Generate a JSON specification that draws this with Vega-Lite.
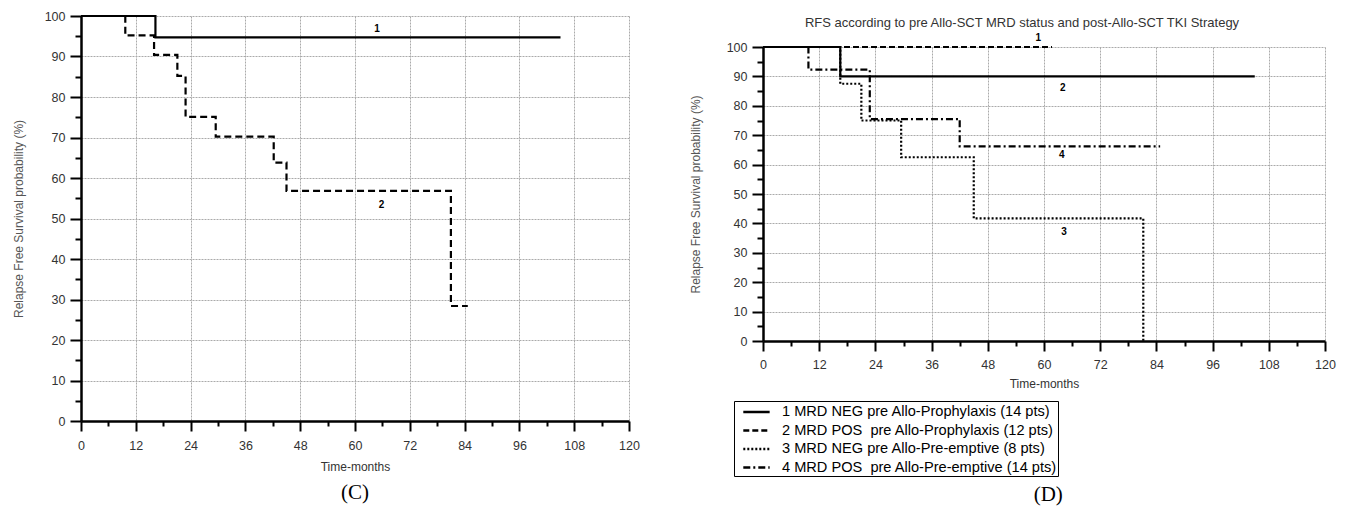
{
  "$schema": "https://vega.github.io/schema/vega-lite/v6.json",
  "background": "white",
  "padding": {"left": 12, "top": 10, "right": 5, "bottom": 2},
  "spacing": 49,
  "config": {
    "view": {"stroke": null},
    "axis": {
      "domainColor": "black", "domainWidth": 2.5,
      "tickColor": "black", "tickWidth": 2,
      "gridColor": "#aaaaaa", "gridWidth": 1, "gridDash": [2, 1],
      "labelFont": "Liberation Sans", "labelFontSize": 12.5, "labelColor": "#333",
      "labelFlush": false, "labelOverlap": false,
      "titleFont": "Liberation Sans", "titleFontSize": 12, "titleFontWeight": "normal", "titleColor": "#555"
    }
  },
  "resolve": {"scale": {"strokeDash": "independent"}, "legend": {"strokeDash": "independent"}},
  "hconcat": [
    {
      "width": 548,
      "height": 405,
      "title": {"text": "(C)", "orient": "bottom", "anchor": "middle", "font": "Liberation Serif", "fontSize": 21, "fontWeight": "normal", "color": "black", "offset": 9},
      "encoding": {
        "x": {"field": "t", "type": "quantitative", "scale": {"domain": [0, 120], "nice": false},
          "axis": {
            "title": "Time-months", "titleColor": "#333", "titlePadding": 10, "labelPadding": 8, "labelOverlap": false,
            "values": [0, 6, 12, 18, 24, 30, 36, 42, 48, 54, 60, 66, 72, 78, 84, 90, 96, 102, 108, 114, 120],
            "labelExpr": "datum.value % 12 === 0 ? datum.label : ''",
            "tickSize": {"condition": {"test": "datum.value % 12 === 0", "value": 10}, "value": 5},
            "gridOpacity": {"condition": {"test": "datum.value % 12 === 0", "value": 1}, "value": 0}
          }},
        "y": {"field": "p", "type": "quantitative", "scale": {"domain": [0, 100], "nice": false},
          "axis": {
            "title": "Relapse Free Survival probability (%)", "titlePadding": 19, "labelPadding": 5, "labelOverlap": false,
            "values": [0, 5, 10, 15, 20, 25, 30, 35, 40, 45, 50, 55, 60, 65, 70, 75, 80, 85, 90, 95, 100],
            "labelExpr": "datum.value % 10 === 0 ? datum.label : ''",
            "tickSize": {"condition": {"test": "datum.value % 10 === 0", "value": 11}, "value": 6},
            "gridOpacity": {"condition": {"test": "datum.value % 10 === 0", "value": 1}, "value": 0}
          }}
      },
      "layer": [
        {
          "data": {"values": [
            {"g": "1", "t": 0, "p": 100},
            {"g": "1", "t": 16.3, "p": 94.7},
            {"g": "1", "t": 105, "p": 94.7},
            {"g": "2", "t": 0, "p": 100},
            {"g": "2", "t": 9.7, "p": 95.2},
            {"g": "2", "t": 16, "p": 90.4},
            {"g": "2", "t": 21.1, "p": 85.2},
            {"g": "2", "t": 22.9, "p": 75.1},
            {"g": "2", "t": 29.5, "p": 70.2},
            {"g": "2", "t": 42.2, "p": 63.8},
            {"g": "2", "t": 45, "p": 56.8},
            {"g": "2", "t": 81, "p": 28.4},
            {"g": "2", "t": 84.7, "p": 28.4}
          ]},
          "mark": {"type": "line", "interpolate": "step-after", "color": "black", "strokeWidth": 2.2},
          "encoding": {
            "strokeDash": {"field": "g", "type": "nominal", "scale": {"domain": ["1", "2"], "range": [[1, 0], [7, 4]]}, "legend": null}
          }
        },
        {
          "data": {"values": [
            {"t": 64.8, "p": 96.8, "lab": "1"},
            {"t": 65.8, "p": 53.4, "lab": "2"}
          ]},
          "mark": {"type": "text", "font": "Liberation Sans", "fontWeight": "bold", "fontSize": 10, "color": "black"},
          "encoding": {
            "text": {"field": "lab"}
          }
        }
      ]
    },
    {
      "title": {"text": "(D)", "orient": "bottom", "anchor": "middle", "font": "Liberation Serif", "fontSize": 21, "fontWeight": "normal", "color": "black", "offset": 7, "dx": 36},
      "spacing": 2,
      "vconcat": [
        {
          "width": 562,
          "height": 1,
          "title": {"text": "RFS according to pre Allo-SCT MRD status and post-Allo-SCT TKI Strategy", "orient": "bottom", "font": "Liberation Sans", "fontSize": 13, "fontWeight": "normal", "color": "#333", "offset": -2, "dx": -22},
          "data": {"values": [{}]},
          "mark": {"type": "point", "opacity": 0}
        },
        {
          "width": 562,
          "height": 294,
          "encoding": {
            "x": {"field": "t", "type": "quantitative", "scale": {"domain": [0, 120], "nice": false},
              "axis": {
                "title": "Time-months", "titleColor": "#333", "titlePadding": 8, "labelPadding": 7, "labelOverlap": false,
                "values": [0, 6, 12, 18, 24, 30, 36, 42, 48, 54, 60, 66, 72, 78, 84, 90, 96, 102, 108, 114, 120],
                "labelExpr": "datum.value % 12 === 0 ? datum.label : ''",
                "tickSize": {"condition": {"test": "datum.value % 12 === 0", "value": 10}, "value": 5},
                "gridOpacity": {"condition": {"test": "datum.value % 12 === 0", "value": 1}, "value": 0}
              }},
            "y": {"field": "p", "type": "quantitative", "scale": {"domain": [0, 100], "nice": false},
              "axis": {
                "title": "Relapse Free Survival probability (%)", "titlePadding": 24, "labelPadding": 5, "labelOverlap": false,
                "values": [0, 5, 10, 15, 20, 25, 30, 35, 40, 45, 50, 55, 60, 65, 70, 75, 80, 85, 90, 95, 100],
                "labelExpr": "datum.value % 10 === 0 ? datum.label : ''",
                "tickSize": {"condition": {"test": "datum.value % 10 === 0", "value": 11}, "value": 6},
                "gridOpacity": {"condition": {"test": "datum.value % 10 === 0", "value": 1}, "value": 0}
              }}
          },
          "layer": [
            {
              "data": {"values": [
                {"s": "1 MRD NEG pre Allo-Prophylaxis (14 pts)", "t": 0, "p": 100},
                {"s": "1 MRD NEG pre Allo-Prophylaxis (14 pts)", "t": 16.5, "p": 90},
                {"s": "1 MRD NEG pre Allo-Prophylaxis (14 pts)", "t": 105, "p": 90},
                {"s": "2 MRD POS\u00a0 pre Allo-Prophylaxis (12 pts)", "t": 0, "p": 100},
                {"s": "2 MRD POS\u00a0 pre Allo-Prophylaxis (12 pts)", "t": 61.7, "p": 100},
                {"s": "3 MRD NEG pre Allo-Pre-emptive (8 pts)", "t": 0, "p": 100},
                {"s": "3 MRD NEG pre Allo-Pre-emptive (8 pts)", "t": 16.5, "p": 87.5},
                {"s": "3 MRD NEG pre Allo-Pre-emptive (8 pts)", "t": 21, "p": 75},
                {"s": "3 MRD NEG pre Allo-Pre-emptive (8 pts)", "t": 29.5, "p": 62.5},
                {"s": "3 MRD NEG pre Allo-Pre-emptive (8 pts)", "t": 45, "p": 41.7},
                {"s": "3 MRD NEG pre Allo-Pre-emptive (8 pts)", "t": 81.2, "p": 0},
                {"s": "4 MRD POS\u00a0 pre Allo-Pre-emptive (14 pts)", "t": 0, "p": 100},
                {"s": "4 MRD POS\u00a0 pre Allo-Pre-emptive (14 pts)", "t": 9.7, "p": 92.3},
                {"s": "4 MRD POS\u00a0 pre Allo-Pre-emptive (14 pts)", "t": 22.8, "p": 75.5},
                {"s": "4 MRD POS\u00a0 pre Allo-Pre-emptive (14 pts)", "t": 42, "p": 66.2},
                {"s": "4 MRD POS\u00a0 pre Allo-Pre-emptive (14 pts)", "t": 84.8, "p": 66.2}
              ]},
              "mark": {"type": "line", "interpolate": "step-after", "color": "black", "strokeWidth": 2.2},
              "encoding": {
                "strokeDash": {"field": "s", "type": "nominal",
                  "scale": {"domain": ["1 MRD NEG pre Allo-Prophylaxis (14 pts)", "2 MRD POS\u00a0 pre Allo-Prophylaxis (12 pts)", "3 MRD NEG pre Allo-Pre-emptive (8 pts)", "4 MRD POS\u00a0 pre Allo-Pre-emptive (14 pts)"],
                            "range": [[1, 0], [6, 3], [2, 2], [7, 3, 2, 3]]},
                  "legend": {
                    "title": null, "orient": "none", "legendX": -29, "legendY": 385,
                    "strokeColor": "black", "fillColor": "white", "padding": 1,
                    "symbolType": "M-0.2,0H2.9", "symbolSize": 289, "symbolStrokeWidth": 2.5, "symbolStrokeColor": "black", "symbolFillColor": "transparent",
                    "labelFont": "Liberation Sans", "labelFontSize": 14.6, "labelColor": "black", "rowPadding": 1.5, "labelOffset": 27,
                    "labelLimit": 400
                  }}
              }
            },
            {
              "data": {"values": [
                {"t": 58.8, "p": 103, "lab": "1"},
                {"t": 64, "p": 86, "lab": "2"},
                {"t": 64.3, "p": 37, "lab": "3"},
                {"t": 63.8, "p": 63.4, "lab": "4"}
              ]},
              "mark": {"type": "text", "font": "Liberation Sans", "fontWeight": "bold", "fontSize": 10, "color": "black"},
              "encoding": {
                "text": {"field": "lab"}
              }
            }
          ]
        }
      ]
    }
  ]
}
